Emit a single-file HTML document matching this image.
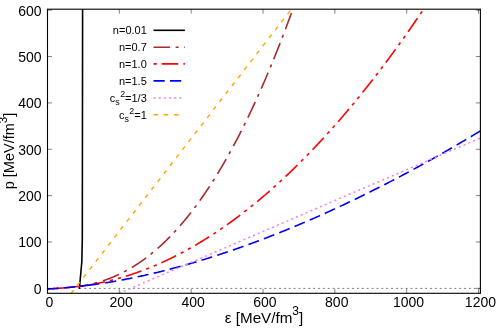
<!DOCTYPE html>
<html><head><meta charset="utf-8"><style>
html,body{margin:0;padding:0;background:#fff}
body{will-change:transform;width:498px;height:332px;position:relative;overflow:hidden;font-family:"Liberation Sans",sans-serif;color:#000}
.xt{position:absolute;top:296.4px;width:60px;text-align:center;font-size:14px;line-height:12px;white-space:nowrap}
.yt{position:absolute;left:0;width:41.6px;text-align:right;font-size:14px;line-height:16px;white-space:nowrap}
.lg{position:absolute;left:60px;width:86.8px;text-align:right;font-size:11px;line-height:13px;white-space:nowrap}
.sub{font-size:8.8px;position:relative;top:3.2px}
.sup{font-size:8.8px;position:relative;top:-5px;margin-left:0.5px}
.xl{position:absolute;left:164px;width:200px;text-align:center;top:310px;font-size:15.2px;line-height:15px;white-space:nowrap}
.yl{position:absolute;left:-90.4px;top:143px;width:200px;text-align:center;font-size:14.5px;line-height:15px;white-space:nowrap;transform:rotate(-90deg);transform-origin:50% 50%}
.s3{font-size:12px;position:relative;top:-7.6px}
.s3y{font-size:11.5px;top:-7.2px}
</style></head><body>
<svg width="498" height="332" viewBox="0 0 498 332" style="position:absolute;left:0;top:0">
<defs><clipPath id="c"><rect x="47.5" y="9.2" width="432.9" height="284.1"/></clipPath></defs>
<path d="M78,288.40000000000003 L480.4,288.40000000000003" stroke="#222" stroke-width="0.6" stroke-dasharray="1.9,2.97" stroke-dashoffset="3.48" fill="none"/>
<g clip-path="url(#c)" fill="none" stroke-width="1.6" stroke-linejoin="round">
<path d="M79.30,288.30 L79.60,286.30 L81.80,262.00 L82.30,240.00 L82.60,9.20" stroke="#000" stroke-linecap="round"/>
<path d="M80.91,286.15 L81.44,286.06 L81.97,285.97 L82.50,285.88 L83.03,285.79 L83.56,285.70 L84.09,285.60 L84.62,285.50 L85.15,285.40 L85.69,285.30 L86.22,285.20 L86.75,285.09 L87.28,284.98 L87.81,284.87 L88.34,284.76 L88.87,284.65 L89.40,284.53 L89.93,284.41 L90.47,284.29 L91.00,284.17 L91.53,284.04 L92.06,283.92 L92.59,283.79 L93.12,283.66 L93.65,283.52 L94.18,283.39 L94.72,283.25 L95.25,283.11 L95.78,282.96 L96.31,282.82 L96.84,282.67 L97.37,282.52 L97.90,282.37 L98.43,282.22 L98.96,282.06 L99.50,281.90 L100.03,281.74 L100.56,281.58 L101.09,281.41 L101.62,281.24 L102.15,281.07 L102.68,280.90 L103.21,280.72 L103.74,280.55 L104.28,280.37 L104.81,280.18 L105.34,280.00 L105.87,279.81 L106.40,279.62 L106.93,279.43 L107.46,279.23 L107.99,279.04 L108.52,278.84 L109.06,278.63 L109.59,278.43 L110.12,278.22 L110.65,278.01 L111.18,277.80 L111.71,277.58 L112.24,277.37 L112.77,277.15 L113.31,276.92 L113.84,276.70 L114.37,276.47 L114.90,276.24 L115.43,276.01 L115.96,275.77 L116.49,275.53 L117.02,275.29 L117.55,275.05 L118.09,274.80 L118.62,274.55 L119.15,274.30 L119.68,274.05 L120.21,273.79 L120.74,273.53 L121.27,273.27 L121.80,273.00 L122.33,272.74 L122.87,272.47 L123.40,272.19 L123.93,271.92 L124.46,271.64 L124.99,271.36 L125.52,271.07 L126.05,270.78 L126.58,270.49 L127.11,270.20 L127.65,269.91 L128.18,269.61 L128.71,269.31 L129.24,269.00 L129.77,268.70 L130.30,268.39 L130.83,268.07 L131.36,267.76 L131.89,267.44 L132.43,267.12 L132.96,266.80 L133.49,266.47 L134.02,266.14 L134.55,265.81 L135.08,265.47 L135.61,265.13 L136.14,264.79 L136.68,264.45 L137.21,264.10 L137.74,263.75 L138.27,263.40 L138.80,263.04 L139.33,262.68 L139.86,262.32 L140.39,261.96 L140.92,261.59 L141.46,261.22 L141.99,260.84 L142.52,260.46 L143.05,260.08 L143.58,259.70 L144.11,259.32 L144.64,258.93 L145.17,258.53 L145.70,258.14 L146.24,257.74 L146.77,257.34 L147.30,256.93 L147.83,256.53 L148.36,256.12 L148.89,255.70 L149.42,255.29 L149.95,254.87 L150.48,254.44 L151.02,254.02 L151.55,253.59 L152.08,253.15 L152.61,252.72 L153.14,252.28 L153.67,251.84 L154.20,251.39 L154.73,250.94 L155.26,250.49 L155.80,250.04 L156.33,249.58 L156.86,249.12 L157.39,248.65 L157.92,248.19 L158.45,247.72 L158.98,247.24 L159.51,246.76 L160.05,246.28 L160.58,245.80 L161.11,245.31 L161.64,244.82 L162.17,244.33 L162.70,243.83 L163.23,243.33 L163.76,242.83 L164.29,242.32 L164.83,241.81 L165.36,241.30 L165.89,240.78 L166.42,240.26 L166.95,239.74 L167.48,239.21 L168.01,238.68 L168.54,238.15 L169.07,237.61 L169.61,237.07 L170.14,236.53 L170.67,235.98 L171.20,235.43 L171.73,234.88 L172.26,234.32 L172.79,233.76 L173.32,233.20 L173.85,232.63 L174.39,232.06 L174.92,231.49 L175.45,230.91 L175.98,230.33 L176.51,229.74 L177.04,229.16 L177.57,228.57 L178.10,227.97 L178.64,227.37 L179.17,226.77 L179.70,226.17 L180.23,225.56 L180.76,224.95 L181.29,224.33 L181.82,223.71 L182.35,223.09 L182.88,222.46 L183.42,221.83 L183.95,221.20 L184.48,220.56 L185.01,219.92 L185.54,219.28 L186.07,218.63 L186.60,217.98 L187.13,217.33 L187.66,216.67 L188.20,216.01 L188.73,215.34 L189.26,214.68 L189.79,214.00 L190.32,213.33 L190.85,212.65 L191.38,211.96 L191.91,211.28 L192.44,210.59 L192.98,209.89 L193.51,209.20 L194.04,208.50 L194.57,207.79 L195.10,207.08 L195.63,206.37 L196.16,205.65 L196.69,204.94 L197.22,204.21 L197.76,203.49 L198.29,202.76 L198.82,202.02 L199.35,201.28 L199.88,200.54 L200.41,199.80 L200.94,199.05 L201.47,198.30 L202.01,197.54 L202.54,196.78 L203.07,196.02 L203.60,195.25 L204.13,194.48 L204.66,193.70 L205.19,192.92 L205.72,192.14 L206.25,191.35 L206.79,190.56 L207.32,189.77 L207.85,188.97 L208.38,188.17 L208.91,187.37 L209.44,186.56 L209.97,185.75 L210.50,184.93 L211.03,184.11 L211.57,183.28 L212.10,182.46 L212.63,181.62 L213.16,180.79 L213.69,179.95 L214.22,179.11 L214.75,178.26 L215.28,177.41 L215.81,176.55 L216.35,175.69 L216.88,174.83 L217.41,173.97 L217.94,173.10 L218.47,172.22 L219.00,171.34 L219.53,170.46 L220.06,169.57 L220.59,168.69 L221.13,167.79 L221.66,166.89 L222.19,165.99 L222.72,165.09 L223.25,164.18 L223.78,163.26 L224.31,162.35 L224.84,161.43 L225.38,160.50 L225.91,159.57 L226.44,158.64 L226.97,157.70 L227.50,156.76 L228.03,155.82 L228.56,154.87 L229.09,153.91 L229.62,152.96 L230.16,152.00 L230.69,151.03 L231.22,150.06 L231.75,149.09 L232.28,148.11 L232.81,147.13 L233.34,146.15 L233.87,145.16 L234.40,144.16 L234.94,143.17 L235.47,142.17 L236.00,141.16 L236.53,140.15 L237.06,139.14 L237.59,138.12 L238.12,137.10 L238.65,136.07 L239.18,135.04 L239.72,134.01 L240.25,132.97 L240.78,131.93 L241.31,130.88 L241.84,129.83 L242.37,128.78 L242.90,127.72 L243.43,126.66 L243.97,125.59 L244.50,124.52 L245.03,123.45 L245.56,122.37 L246.09,121.29 L246.62,120.20 L247.15,119.11 L247.68,118.01 L248.21,116.91 L248.75,115.81 L249.28,114.70 L249.81,113.59 L250.34,112.47 L250.87,111.35 L251.40,110.23 L251.93,109.10 L252.46,107.96 L252.99,106.83 L253.53,105.68 L254.06,104.54 L254.59,103.39 L255.12,102.24 L255.65,101.08 L256.18,99.91 L256.71,98.75 L257.24,97.58 L257.77,96.40 L258.31,95.22 L258.84,94.04 L259.37,92.85 L259.90,91.66 L260.43,90.46 L260.96,89.26 L261.49,88.05 L262.02,86.84 L262.55,85.63 L263.09,84.41 L263.62,83.19 L264.15,81.96 L264.68,80.73 L265.21,79.50 L265.74,78.26 L266.27,77.01 L266.80,75.77 L267.34,74.51 L267.87,73.26 L268.40,71.99 L268.93,70.73 L269.46,69.46 L269.99,68.19 L270.52,66.91 L271.05,65.62 L271.58,64.34 L272.12,63.04 L272.65,61.75 L273.18,60.45 L273.71,59.14 L274.24,57.83 L274.77,56.52 L275.30,55.20 L275.83,53.88 L276.36,52.55 L276.90,51.22 L277.43,49.89 L277.96,48.55 L278.49,47.20 L279.02,45.85 L279.55,44.50 L280.08,43.14 L280.61,41.78 L281.14,40.41 L281.68,39.04 L282.21,37.67 L282.74,36.29 L283.27,34.90 L283.80,33.51 L284.33,32.12 L284.86,30.72 L285.39,29.32 L285.92,27.91 L286.46,26.50 L286.99,25.09 L287.52,23.67 L288.05,22.24 L288.58,20.81 L289.11,19.38 L289.64,17.94 L290.17,16.50 L290.71,15.05 L291.24,13.60 L291.77,12.14 L292.30,10.68 L292.83,9.22" stroke="#a52a2a" stroke-dasharray="17.3,5.7,3.1,5.9" stroke-dashoffset="9.40"/>
<path d="M80.91,286.15 L81.76,286.03 L82.62,285.92 L83.48,285.80 L84.34,285.67 L85.20,285.55 L86.06,285.42 L86.92,285.28 L87.78,285.15 L88.64,285.01 L89.49,284.87 L90.35,284.73 L91.21,284.58 L92.07,284.43 L92.93,284.28 L93.79,284.12 L94.65,283.96 L95.51,283.80 L96.37,283.64 L97.22,283.47 L98.08,283.30 L98.94,283.13 L99.80,282.95 L100.66,282.77 L101.52,282.59 L102.38,282.41 L103.24,282.22 L104.10,282.03 L104.95,281.84 L105.81,281.64 L106.67,281.44 L107.53,281.24 L108.39,281.03 L109.25,280.83 L110.11,280.62 L110.97,280.40 L111.83,280.18 L112.68,279.97 L113.54,279.74 L114.40,279.52 L115.26,279.29 L116.12,279.06 L116.98,278.82 L117.84,278.59 L118.70,278.35 L119.56,278.10 L120.41,277.86 L121.27,277.61 L122.13,277.36 L122.99,277.10 L123.85,276.85 L124.71,276.59 L125.57,276.32 L126.43,276.06 L127.29,275.79 L128.14,275.52 L129.00,275.24 L129.86,274.96 L130.72,274.68 L131.58,274.40 L132.44,274.11 L133.30,273.82 L134.16,273.53 L135.02,273.24 L135.87,272.94 L136.73,272.64 L137.59,272.33 L138.45,272.03 L139.31,271.72 L140.17,271.40 L141.03,271.09 L141.89,270.77 L142.75,270.45 L143.60,270.12 L144.46,269.80 L145.32,269.47 L146.18,269.13 L147.04,268.80 L147.90,268.46 L148.76,268.12 L149.62,267.77 L150.48,267.42 L151.33,267.07 L152.19,266.72 L153.05,266.36 L153.91,266.01 L154.77,265.64 L155.63,265.28 L156.49,264.91 L157.35,264.54 L158.21,264.17 L159.06,263.79 L159.92,263.41 L160.78,263.03 L161.64,262.64 L162.50,262.25 L163.36,261.86 L164.22,261.47 L165.08,261.07 L165.94,260.67 L166.79,260.27 L167.65,259.86 L168.51,259.45 L169.37,259.04 L170.23,258.63 L171.09,258.21 L171.95,257.79 L172.81,257.37 L173.67,256.94 L174.52,256.51 L175.38,256.08 L176.24,255.64 L177.10,255.21 L177.96,254.76 L178.82,254.32 L179.68,253.87 L180.54,253.42 L181.40,252.97 L182.25,252.52 L183.11,252.06 L183.97,251.60 L184.83,251.13 L185.69,250.67 L186.55,250.20 L187.41,249.72 L188.27,249.25 L189.13,248.77 L189.98,248.29 L190.84,247.80 L191.70,247.32 L192.56,246.83 L193.42,246.33 L194.28,245.84 L195.14,245.34 L196.00,244.84 L196.86,244.33 L197.71,243.82 L198.57,243.31 L199.43,242.80 L200.29,242.28 L201.15,241.76 L202.01,241.24 L202.87,240.72 L203.73,240.19 L204.59,239.66 L205.44,239.12 L206.30,238.59 L207.16,238.05 L208.02,237.50 L208.88,236.96 L209.74,236.41 L210.60,235.86 L211.46,235.30 L212.32,234.75 L213.17,234.19 L214.03,233.62 L214.89,233.06 L215.75,232.49 L216.61,231.92 L217.47,231.34 L218.33,230.76 L219.19,230.18 L220.05,229.60 L220.90,229.01 L221.76,228.42 L222.62,227.83 L223.48,227.24 L224.34,226.64 L225.20,226.04 L226.06,225.43 L226.92,224.83 L227.78,224.22 L228.63,223.61 L229.49,222.99 L230.35,222.37 L231.21,221.75 L232.07,221.13 L232.93,220.50 L233.79,219.87 L234.65,219.24 L235.51,218.60 L236.36,217.96 L237.22,217.32 L238.08,216.68 L238.94,216.03 L239.80,215.38 L240.66,214.72 L241.52,214.07 L242.38,213.41 L243.24,212.75 L244.09,212.08 L244.95,211.41 L245.81,210.74 L246.67,210.07 L247.53,209.39 L248.39,208.71 L249.25,208.03 L250.11,207.35 L250.97,206.66 L251.82,205.97 L252.68,205.27 L253.54,204.58 L254.40,203.88 L255.26,203.17 L256.12,202.47 L256.98,201.76 L257.84,201.05 L258.70,200.33 L259.55,199.61 L260.41,198.89 L261.27,198.17 L262.13,197.45 L262.99,196.72 L263.85,195.98 L264.71,195.25 L265.57,194.51 L266.43,193.77 L267.28,193.03 L268.14,192.28 L269.00,191.53 L269.86,190.78 L270.72,190.02 L271.58,189.27 L272.44,188.51 L273.30,187.74 L274.16,186.97 L275.01,186.20 L275.87,185.43 L276.73,184.66 L277.59,183.88 L278.45,183.10 L279.31,182.31 L280.17,181.53 L281.03,180.73 L281.89,179.94 L282.74,179.15 L283.60,178.35 L284.46,177.55 L285.32,176.74 L286.18,175.93 L287.04,175.12 L287.90,174.31 L288.76,173.49 L289.62,172.67 L290.47,171.85 L291.33,171.03 L292.19,170.20 L293.05,169.37 L293.91,168.53 L294.77,167.70 L295.63,166.86 L296.49,166.01 L297.35,165.17 L298.20,164.32 L299.06,163.47 L299.92,162.62 L300.78,161.76 L301.64,160.90 L302.50,160.04 L303.36,159.17 L304.22,158.30 L305.08,157.43 L305.93,156.55 L306.79,155.68 L307.65,154.80 L308.51,153.91 L309.37,153.03 L310.23,152.14 L311.09,151.25 L311.95,150.35 L312.81,149.45 L313.66,148.55 L314.52,147.65 L315.38,146.74 L316.24,145.83 L317.10,144.92 L317.96,144.00 L318.82,143.09 L319.68,142.17 L320.54,141.24 L321.39,140.31 L322.25,139.38 L323.11,138.45 L323.97,137.52 L324.83,136.58 L325.69,135.64 L326.55,134.69 L327.41,133.74 L328.27,132.79 L329.13,131.84 L329.98,130.88 L330.84,129.93 L331.70,128.96 L332.56,128.00 L333.42,127.03 L334.28,126.06 L335.14,125.09 L336.00,124.11 L336.86,123.13 L337.71,122.15 L338.57,121.16 L339.43,120.18 L340.29,119.18 L341.15,118.19 L342.01,117.19 L342.87,116.19 L343.73,115.19 L344.59,114.19 L345.44,113.18 L346.30,112.17 L347.16,111.15 L348.02,110.13 L348.88,109.11 L349.74,108.09 L350.60,107.06 L351.46,106.04 L352.32,105.00 L353.17,103.97 L354.03,102.93 L354.89,101.89 L355.75,100.85 L356.61,99.80 L357.47,98.75 L358.33,97.70 L359.19,96.64 L360.05,95.59 L360.90,94.53 L361.76,93.46 L362.62,92.40 L363.48,91.33 L364.34,90.25 L365.20,89.18 L366.06,88.10 L366.92,87.02 L367.78,85.93 L368.63,84.85 L369.49,83.76 L370.35,82.66 L371.21,81.57 L372.07,80.47 L372.93,79.37 L373.79,78.26 L374.65,77.16 L375.51,76.05 L376.36,74.93 L377.22,73.82 L378.08,72.70 L378.94,71.57 L379.80,70.45 L380.66,69.32 L381.52,68.19 L382.38,67.06 L383.24,65.92 L384.09,64.78 L384.95,63.64 L385.81,62.49 L386.67,61.35 L387.53,60.19 L388.39,59.04 L389.25,57.88 L390.11,56.72 L390.97,55.56 L391.82,54.39 L392.68,53.23 L393.54,52.05 L394.40,50.88 L395.26,49.70 L396.12,48.52 L396.98,47.34 L397.84,46.15 L398.70,44.96 L399.55,43.77 L400.41,42.58 L401.27,41.38 L402.13,40.18 L402.99,38.98 L403.85,37.77 L404.71,36.56 L405.57,35.35 L406.43,34.13 L407.28,32.91 L408.14,31.69 L409.00,30.47 L409.86,29.24 L410.72,28.01 L411.58,26.78 L412.44,25.54 L413.30,24.31 L414.16,23.06 L415.01,21.82 L415.87,20.57 L416.73,19.32 L417.59,18.07 L418.45,16.81 L419.31,15.55 L420.17,14.29 L421.03,13.03 L421.89,11.76 L422.74,10.49 L423.60,9.22" stroke="#ff0000" stroke-dasharray="16.5,5.05,3.2,5.0,3.2,5.05" stroke-dashoffset="30.00"/>
<path d="M47.50,288.91 L48.36,288.88 L49.21,288.85 L50.07,288.82 L50.93,288.78 L51.78,288.73 L52.64,288.69 L53.50,288.64 L54.35,288.59 L55.21,288.53 L56.07,288.48 L56.92,288.42 L57.78,288.36 L58.64,288.30 L59.49,288.23 L60.35,288.17 L61.20,288.10 L62.06,288.03 L62.92,287.96 L63.77,287.89 L64.63,287.81 L65.49,287.74 L66.34,287.66 L67.20,287.58 L68.06,287.50 L68.91,287.42 L69.77,287.34 L70.63,287.25 L71.48,287.17 L72.34,287.08 L73.20,286.99 L74.05,286.90 L74.91,286.81 L75.77,286.72 L76.62,286.63 L77.48,286.53 L78.34,286.44 L79.19,286.34 L80.05,286.25 L80.91,286.15" stroke="#ff0000"/>
<path d="M47.50,288.91 L48.10,288.89 L48.70,288.87 L49.30,288.85 L49.90,288.82 L50.50,288.80 L51.10,288.77 L51.70,288.74 L52.30,288.71 L52.90,288.67 L53.50,288.64 L54.10,288.60 L54.70,288.57 L55.30,288.53 L55.90,288.49 L56.50,288.45 L57.10,288.41 L57.70,288.36 L58.30,288.32 L58.90,288.28" stroke="#0000ff"/>
<path d="M64.00,287.87 L64.59,287.82 L65.19,287.76 L65.78,287.71 L66.38,287.66 L66.97,287.60 L67.57,287.55 L68.16,287.49 L68.76,287.43 L69.35,287.38 L69.95,287.32 L70.54,287.26 L71.14,287.20 L71.73,287.14 L72.33,287.08 L72.92,287.02 L73.52,286.96 L74.11,286.90 L74.71,286.83 L75.30,286.77" stroke="#0000ff"/>
<path d="M80.10,286.24 L81.11,286.13 L82.11,286.01 L83.12,285.90 L84.12,285.78 L85.13,285.66 L86.13,285.54 L87.14,285.42 L88.14,285.30 L89.15,285.17 L90.15,285.04 L91.16,284.91 L92.16,284.78 L93.17,284.64 L94.17,284.50 L95.18,284.37 L96.18,284.22 L97.19,284.08 L98.19,283.94 L99.20,283.79" stroke="#0000ff"/>
<path d="M100.00,283.67 L100.93,283.53 L101.93,283.38 L102.93,283.23 L103.93,283.07 L104.94,282.92 L105.94,282.76 L106.94,282.60 L107.94,282.43 L108.94,282.27 L109.94,282.10 L110.94,281.94 L111.94,281.77 L112.95,281.60 L113.95,281.42 L114.95,281.25 L115.95,281.07 L116.95,280.89 L117.95,280.71 L118.95,280.53 L119.95,280.35 L120.96,280.16 L121.96,279.98 L122.96,279.79 L123.96,279.60 L124.96,279.40 L125.96,279.21 L126.96,279.02 L127.96,278.82 L128.97,278.62 L129.97,278.42 L130.97,278.22 L131.97,278.02 L132.97,277.81 L133.97,277.60 L134.97,277.40 L135.97,277.19 L136.97,276.97 L137.98,276.76 L138.98,276.55 L139.98,276.33 L140.98,276.11 L141.98,275.89 L142.98,275.67 L143.98,275.45 L144.98,275.23 L145.99,275.00 L146.99,274.77 L147.99,274.55 L148.99,274.32 L149.99,274.08 L150.99,273.85 L151.99,273.62 L152.99,273.38 L154.00,273.14 L155.00,272.90 L156.00,272.66 L157.00,272.42 L158.00,272.18 L159.00,271.93 L160.00,271.69 L161.00,271.44 L162.01,271.19 L163.01,270.94 L164.01,270.69 L165.01,270.43 L166.01,270.18 L167.01,269.92 L168.01,269.66 L169.01,269.40 L170.02,269.14 L171.02,268.88 L172.02,268.62 L173.02,268.35 L174.02,268.09 L175.02,267.82 L176.02,267.55 L177.02,267.28 L178.03,267.00 L179.03,266.73 L180.03,266.46 L181.03,266.18 L182.03,265.90 L183.03,265.62 L184.03,265.34 L185.03,265.06 L186.04,264.78 L187.04,264.49 L188.04,264.21 L189.04,263.92 L190.04,263.63 L191.04,263.34 L192.04,263.05 L193.04,262.76 L194.05,262.46 L195.05,262.17 L196.05,261.87 L197.05,261.57 L198.05,261.27 L199.05,260.97 L200.05,260.67 L201.05,260.37 L202.06,260.06 L203.06,259.76 L204.06,259.45 L205.06,259.14 L206.06,258.83 L207.06,258.52 L208.06,258.21 L209.06,257.89 L210.07,257.58 L211.07,257.26 L212.07,256.94 L213.07,256.62 L214.07,256.30 L215.07,255.98 L216.07,255.66 L217.07,255.33 L218.08,255.01 L219.08,254.68 L220.08,254.35 L221.08,254.02 L222.08,253.69 L223.08,253.36 L224.08,253.03 L225.08,252.69 L226.09,252.36 L227.09,252.02 L228.09,251.68 L229.09,251.34 L230.09,251.00 L231.09,250.66 L232.09,250.32 L233.09,249.97 L234.10,249.63 L235.10,249.28 L236.10,248.93 L237.10,248.58 L238.10,248.23 L239.10,247.88 L240.10,247.53 L241.10,247.17 L242.11,246.82 L243.11,246.46 L244.11,246.10 L245.11,245.74 L246.11,245.38 L247.11,245.02 L248.11,244.66 L249.11,244.29 L250.12,243.93 L251.12,243.56 L252.12,243.19 L253.12,242.83 L254.12,242.46 L255.12,242.08 L256.12,241.71 L257.12,241.34 L258.12,240.96 L259.13,240.59 L260.13,240.21 L261.13,239.83 L262.13,239.45 L263.13,239.07 L264.13,238.69 L265.13,238.31 L266.13,237.92 L267.14,237.54 L268.14,237.15 L269.14,236.76 L270.14,236.37 L271.14,235.98 L272.14,235.59 L273.14,235.20 L274.14,234.81 L275.15,234.41 L276.15,234.01 L277.15,233.62 L278.15,233.22 L279.15,232.82 L280.15,232.42 L281.15,232.02 L282.15,231.61 L283.16,231.21 L284.16,230.81 L285.16,230.40 L286.16,229.99 L287.16,229.58 L288.16,229.17 L289.16,228.76 L290.16,228.35 L291.17,227.94 L292.17,227.52 L293.17,227.11 L294.17,226.69 L295.17,226.27 L296.17,225.85 L297.17,225.43 L298.17,225.01 L299.18,224.59 L300.18,224.17 L301.18,223.74 L302.18,223.32 L303.18,222.89 L304.18,222.46 L305.18,222.03 L306.18,221.60 L307.19,221.17 L308.19,220.74 L309.19,220.31 L310.19,219.87 L311.19,219.44 L312.19,219.00 L313.19,218.56 L314.19,218.12 L315.20,217.68 L316.20,217.24 L317.20,216.80 L318.20,216.36 L319.20,215.91 L320.20,215.47 L321.20,215.02 L322.20,214.57 L323.21,214.13 L324.21,213.68 L325.21,213.22 L326.21,212.77 L327.21,212.32 L328.21,211.87 L329.21,211.41 L330.21,210.95 L331.22,210.50 L332.22,210.04 L333.22,209.58 L334.22,209.12 L335.22,208.66 L336.22,208.19 L337.22,207.73 L338.22,207.27 L339.23,206.80 L340.23,206.33 L341.23,205.86 L342.23,205.39 L343.23,204.92 L344.23,204.45 L345.23,203.98 L346.23,203.51 L347.24,203.03 L348.24,202.56 L349.24,202.08 L350.24,201.60 L351.24,201.12 L352.24,200.65 L353.24,200.16 L354.24,199.68 L355.25,199.20 L356.25,198.72 L357.25,198.23 L358.25,197.74 L359.25,197.26 L360.25,196.77 L361.25,196.28 L362.25,195.79 L363.26,195.30 L364.26,194.81 L365.26,194.31 L366.26,193.82 L367.26,193.32 L368.26,192.83 L369.26,192.33 L370.26,191.83 L371.26,191.33 L372.27,190.83 L373.27,190.33 L374.27,189.83 L375.27,189.32 L376.27,188.82 L377.27,188.31 L378.27,187.81 L379.27,187.30 L380.28,186.79 L381.28,186.28 L382.28,185.77 L383.28,185.26 L384.28,184.74 L385.28,184.23 L386.28,183.72 L387.28,183.20 L388.29,182.68 L389.29,182.16 L390.29,181.65 L391.29,181.13 L392.29,180.60 L393.29,180.08 L394.29,179.56 L395.29,179.04 L396.30,178.51 L397.30,177.98 L398.30,177.46 L399.30,176.93 L400.30,176.40 L401.30,175.87 L402.30,175.34 L403.30,174.81 L404.31,174.27 L405.31,173.74 L406.31,173.21 L407.31,172.67 L408.31,172.13 L409.31,171.59 L410.31,171.06 L411.31,170.52 L412.32,169.97 L413.32,169.43 L414.32,168.89 L415.32,168.35 L416.32,167.80 L417.32,167.26 L418.32,166.71 L419.32,166.16 L420.33,165.61 L421.33,165.06 L422.33,164.51 L423.33,163.96 L424.33,163.41 L425.33,162.85 L426.33,162.30 L427.33,161.74 L428.34,161.19 L429.34,160.63 L430.34,160.07 L431.34,159.51 L432.34,158.95 L433.34,158.39 L434.34,157.82 L435.34,157.26 L436.35,156.70 L437.35,156.13 L438.35,155.56 L439.35,155.00 L440.35,154.43 L441.35,153.86 L442.35,153.29 L443.35,152.72 L444.36,152.15 L445.36,151.57 L446.36,151.00 L447.36,150.42 L448.36,149.85 L449.36,149.27 L450.36,148.69 L451.36,148.11 L452.37,147.53 L453.37,146.95 L454.37,146.37 L455.37,145.79 L456.37,145.20 L457.37,144.62 L458.37,144.03 L459.37,143.45 L460.38,142.86 L461.38,142.27 L462.38,141.68 L463.38,141.09 L464.38,140.50 L465.38,139.91 L466.38,139.31 L467.38,138.72 L468.39,138.12 L469.39,137.53 L470.39,136.93 L471.39,136.33 L472.39,135.73 L473.39,135.13 L474.39,134.53 L475.39,133.93 L476.40,133.33 L477.40,132.73 L478.40,132.12 L479.40,131.52 L480.40,130.91" stroke="#0000ff" stroke-dasharray="11.2,5.3" stroke-dashoffset="11.24"/>
<path d="M120.06,292.99 L480.40,137.96" stroke="#ee82ee" stroke-width="1.5" stroke-dasharray="2.1,3.11" stroke-dashoffset="1.20"/>
<path d="M71.46,292.99 L291.32,9.22" stroke="#ffa500" stroke-width="1.4" stroke-dasharray="4.3,5.8" stroke-dashoffset="0.69"/>
</g>
<rect x="47.5" y="9.2" width="432.9" height="284.1" fill="none" stroke="#000" stroke-width="1.1"/>
<path d="M47.50,293.3 v-4.5 M47.50,9.2 v4.5 M119.34,293.3 v-4.5 M119.34,9.2 v4.5 M191.18,293.3 v-4.5 M191.18,9.2 v4.5 M263.02,293.3 v-4.5 M263.02,9.2 v4.5 M334.86,293.3 v-4.5 M334.86,9.2 v4.5 M406.70,293.3 v-4.5 M406.70,9.2 v4.5 M478.54,293.3 v-4.5 M478.54,9.2 v4.5 M47.5,288.35 h4.5 M480.4,288.35 h-4.5 M47.5,241.99 h4.5 M480.4,241.99 h-4.5 M47.5,195.63 h4.5 M480.4,195.63 h-4.5 M47.5,149.27 h4.5 M480.4,149.27 h-4.5 M47.5,102.91 h4.5 M480.4,102.91 h-4.5 M47.5,56.55 h4.5 M480.4,56.55 h-4.5 M47.5,10.19 h4.5 M480.4,10.19 h-4.5" stroke="#000" stroke-width="0.5" fill="none"/>
<g fill="none" stroke-width="1.6">
<path d="M153.5,30.3 H184.9" stroke="#000"/>
<path d="M153.5,47.2 H184.9" stroke="#a52a2a" stroke-dasharray="16.6,5.5,3,5.6"/>
<path d="M153.5,63.9 H184.9" stroke="#ff0000" stroke-dasharray="16.5,5.05,3.2,5.0,3.2,5.05" stroke-dashoffset="29.7"/>
<path d="M153.5,80.9 H184.9" stroke="#0000ff" stroke-dasharray="11.2,5.3"/>
<path d="M153.5,97.9 H182" stroke="#ee82ee" stroke-width="1.5" stroke-dasharray="2.1,3.06"/>
<path d="M153.5,114.8 H182" stroke="#ffa500" stroke-width="1.4" stroke-dasharray="4.6,5.7"/>
</g>
</svg>
<div class="xt" style="left:19.40px">0</div>
<div class="xt" style="left:91.24px">200</div>
<div class="xt" style="left:163.08px">400</div>
<div class="xt" style="left:234.92px">600</div>
<div class="xt" style="left:306.76px">800</div>
<div class="xt" style="left:378.60px">1000</div>
<div class="xt" style="left:450.44px">1200</div>
<div class="yt" style="top:280.75px">0</div>
<div class="yt" style="top:234.39px">100</div>
<div class="yt" style="top:188.03px">200</div>
<div class="yt" style="top:141.67px">300</div>
<div class="yt" style="top:95.31px">400</div>
<div class="yt" style="top:48.95px">500</div>
<div class="yt" style="top:2.59px">600</div>
<div class="lg" style="top:24.20px">n=0.01</div>
<div class="lg" style="top:41.10px">n=0.7</div>
<div class="lg" style="top:57.80px">n=1.0</div>
<div class="lg" style="top:74.80px">n=1.5</div>
<div class="lg" style="top:91.80px">c<span class="sub">s</span><span class="sup">2</span>=1/3</div>
<div class="lg" style="top:108.70px">c<span class="sub">s</span><span class="sup">2</span>=1</div>
<div class="xl">&epsilon; [MeV/fm<span class="s3">3</span>]</div>
<div class="yl">p [MeV/fm<span class="s3 s3y">3</span>]</div>
</body></html>
